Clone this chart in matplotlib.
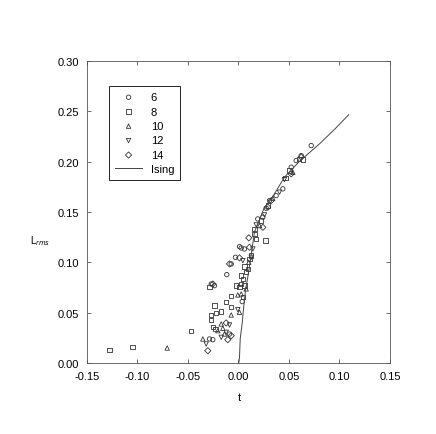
import matplotlib
matplotlib.use("Agg")
import matplotlib.pyplot as plt
import numpy as np

plt.rcParams['font.family'] = ['Liberation Sans', 'DejaVu Sans']

# data: (t, L_rms) per system size
t_6 = [0.0037, -0.0089, -0.0287, -0.0254, 0.001, 0.0027, 0.0059, -0.003, -0.0072, -0.0116,
       -0.027, -0.0238, 0.0439, 0.0373, 0.0307, 0.0274, 0.0241, 0.0191, 0.0621, 0.0571, 0.0522, 0.072]
L_6 = [0.061, 0.0288, 0.0239, 0.0232, 0.1156, 0.1143, 0.1133, 0.105, 0.0984, 0.0878,
       0.0785, 0.0768, 0.173, 0.1663, 0.1613, 0.1538, 0.1448, 0.1431, 0.206, 0.2011, 0.1945, 0.216]

t_8 = [-0.1277, -0.105, -0.0468, -0.0238, -0.0072, 0.0043, -0.0122, -0.0072, -0.0171, -0.0221,
       -0.027, -0.027, -0.0254, -0.0228, 0.0158, 0.0158, 0.0175, 0.0126, 0.0109, 0.0267,
       0.0059, 0.0092, 0.0076, 0.0027, 0.0043, 0.0027, 0.0059, -0.0023, 0.001, -0.0287,
       0.0597, 0.0637, 0.0505, 0.0465, 0.029, 0.0225]
L_8 = [0.0129, 0.0162, 0.0315, 0.057, 0.0663, 0.0653, 0.0609, 0.0554, 0.051, 0.0497,
       0.0477, 0.043, 0.0355, 0.0338, 0.1332, 0.1282, 0.1233, 0.1067, 0.1034, 0.1216,
       0.0957, 0.0934, 0.0902, 0.0868, 0.0835, 0.0785, 0.0768, 0.0768, 0.0752, 0.0758,
       0.2028, 0.2021, 0.1911, 0.1836, 0.1564, 0.1414]

t_10 = [-0.0706, -0.0007, 0.0027, -0.0072, 0.001, -0.0171, -0.0205, -0.0155, -0.0139, -0.0353,
        0.0076, 0.034, 0.0538, 0.0208, 0.0102]
L_10 = [0.0149, 0.0676, 0.0686, 0.0477, 0.0504, 0.0388, 0.0321, 0.0345, 0.0288, 0.0239,
        0.0736, 0.1637, 0.1895, 0.1365, 0.1001]

t_12 = [-0.0122, -0.0171, -0.032, -0.0089, -0.0007, 0.0406, 0.0455, 0.0257, 0.0175, 0.0126,
        0.0043, 0.0142]
L_12 = [0.0305, 0.0255, 0.0189, 0.0378, 0.053, 0.1697, 0.1822, 0.1471, 0.1372, 0.105,
        0.1017, 0.1133]

t_14 = [-0.0304, -0.0106, -0.0072, -0.0122, 0.0102, 0.0109, 0.001, 0.0241, 0.0522, 0.029,
        0.0324, 0.0621, -0.0089, -0.0254]
L_14 = [0.0122, 0.0232, 0.0271, 0.0398, 0.1243, 0.115, 0.1044, 0.1348, 0.1879, 0.1548,
        0.1613, 0.2045, 0.0984, 0.0785]

# Ising curve
t_ising = [0.0003, 0.001, 0.0017, 0.0037, 0.0053, 0.0069, 0.010, 0.0158, 0.025, 0.035,
           0.0455, 0.060, 0.0802, 0.095, 0.109]
L_ising = [0.0, 0.0057, 0.024, 0.040, 0.057, 0.072, 0.090, 0.130, 0.153, 0.167,
           0.1846, 0.200, 0.2177, 0.232, 0.2465]

fig = plt.figure(figsize=(4.36, 4.35), dpi=100)
ax = fig.add_axes([0.1995, 0.1632, 0.695, 0.6943])

mk = dict(facecolors='none', edgecolors='#333333', linewidths=0.6, s=10)
ax.scatter(t_6, L_6, marker='o', label='6', **mk)
ax.scatter(t_8, L_8, marker='s', label='8', **mk)
ax.scatter(t_10, L_10, marker='^', label='10', **mk)
ax.scatter(t_12, L_12, marker='v', label='12', **mk)
ax.scatter(t_14, L_14, marker='D', label='14', **mk)
ax.plot(t_ising, L_ising, color='#444444', lw=0.7, label='Ising')

ax.set_xlim(-0.15, 0.15)
ax.set_ylim(0.0, 0.30)
ax.set_xticks(np.arange(-0.15, 0.151, 0.05))
ax.set_yticks(np.arange(0.0, 0.301, 0.05))
ax.xaxis.set_major_formatter(matplotlib.ticker.FormatStrFormatter('%.2f'))
ax.yaxis.set_major_formatter(matplotlib.ticker.FormatStrFormatter('%.2f'))
ax.tick_params(direction='in', top=True, right=True, length=3, width=0.6,
               labelsize=8, color='#555555')
ax.tick_params(axis='x', pad=6)
ax.tick_params(axis='y', pad=6)
for sp in ax.spines.values():
    sp.set_linewidth(0.6)
    sp.set_color('#555555')

leg = ax.legend(loc='upper left', bbox_to_anchor=(0.073, 0.917), fontsize=8,
                frameon=True, fancybox=False, edgecolor='black', framealpha=1,
                handlelength=2.4, borderpad=0.55, labelspacing=0.4, borderaxespad=0)
leg.get_frame().set_linewidth(0.6)

fig.text(30 / 436, 1 - 241 / 435, 'L$_{rms}$', fontsize=7, ha='left', va='center')
fig.text(239 / 436, 1 - 398 / 435, 't', fontsize=8, ha='center', va='center')

fig.savefig('out.png', dpi=100)
